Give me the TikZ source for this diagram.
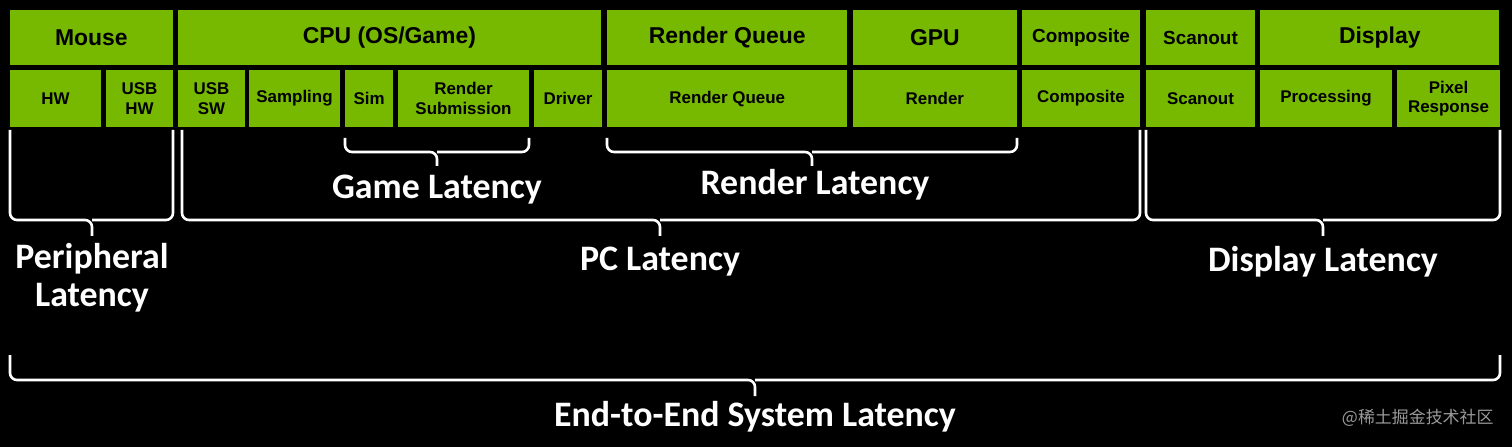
\documentclass[tikz,border=0pt]{standalone}
\usepackage{fontspec}
\setmainfont{Liberation Sans}
\newfontfamily\lbl{Carlito}
\newfontfamily\cjk{Noto Sans CJK SC}
\begin{document}
\begin{tikzpicture}[x=1bp,y=-1bp,
  box/.style={fill=nvgreen,draw=none,inner sep=0,anchor=north west,font=\bfseries,text=black,align=center},
  top/.style={box,font=\fontsize{23}{24}\selectfont\bfseries},
  sub/.style={box,font=\fontsize{17}{20}\selectfont\bfseries},
  lab/.style={text=white,font=\lbl\fontsize{36}{38}\selectfont\bfseries,align=center},
  br/.style={white,line width=2.6bp,rounded corners=7bp}]
\definecolor{nvgreen}{HTML}{76B900}
\fill[black] (0,0) rectangle (1512,447);
\useasboundingbox (0,0) rectangle (1512,447);
\newcommand{\tbx}[4]{\node[top,minimum width=#3-#2,minimum height=55] (#1) at (#2,10) {#4};}
\newcommand{\sbx}[4]{\node[sub,minimum width=#3-#2,minimum height=57] (#1) at (#2,70) {#4};}
\tbx{mouse}{10}{173}{Mouse}
\tbx{cpu}{178}{602}{CPU (OS/Game)}
\tbx{rq}{607}{848}{Render Queue}
\tbx{gpu}{853}{1017}{GPU}
\node[box,font=\fontsize{19}{20}\selectfont\bfseries,minimum width=118,minimum height=55] (comp) at (1022,10) {Composite};
\node[box,font=\fontsize{19}{20}\selectfont\bfseries,minimum width=109,minimum height=55] (scan) at (1146,10) {Scanout};
\tbx{disp}{1260}{1500}{Display}
\sbx{hw}{10}{101}{HW}
\sbx{usbhw}{106}{173}{USB\\HW}
\sbx{usbsw}{178}{245}{USB\\SW}
\sbx{samp}{249}{340}{Sampling}
\sbx{sim}{345}{393}{Sim}
\sbx{rsub}{398}{529}{Render\\Submission}
\sbx{drv}{534}{602}{Driver}
\sbx{rq2}{607}{848}{Render Queue}
\sbx{rend}{853}{1017}{Render}
\sbx{comp2}{1022}{1140}{Composite}
\sbx{scan2}{1146}{1255}{Scanout}
\sbx{proc}{1260}{1392}{Processing}
\sbx{pix}{1397}{1500}{Pixel\\Response}
\newcommand{\brc}[6]{\draw[br] (#1,#4) -- (#1,#5) -- (#3,#5) -- (#3,#6); \draw[br] (#3,#5) -- (#2,#5) -- (#2,#4);}
\brc{10}{173}{92}{130}{220}{236}
\brc{182}{1140}{660}{130}{220}{236}
\brc{1146}{1500}{1323}{130}{220}{236}
\brc{345}{529}{437}{138}{152}{166}
\brc{607}{1017}{812}{138}{152}{166}
\brc{10}{1500}{755}{355}{380}{396}
\node[lab] (per) at (92,278) {Peripheral\\Latency};
\node[lab] (game) at (437,190) {Game Latency};
\node[lab] (rl) at (815,185) {Render Latency};
\node[lab] (pc) at (660,262) {PC Latency};
\node[lab] (dl) at (1323,262) {Display Latency};
\node[lab] (e2e) at (755,417) {End-to-End System Latency};
\node[text=gray!80,font=\cjk\fontsize{17}{18}\selectfont,anchor=east] (wm) at (1497,418) {@稀土掘金技术社区};
\end{tikzpicture}
\end{document}
